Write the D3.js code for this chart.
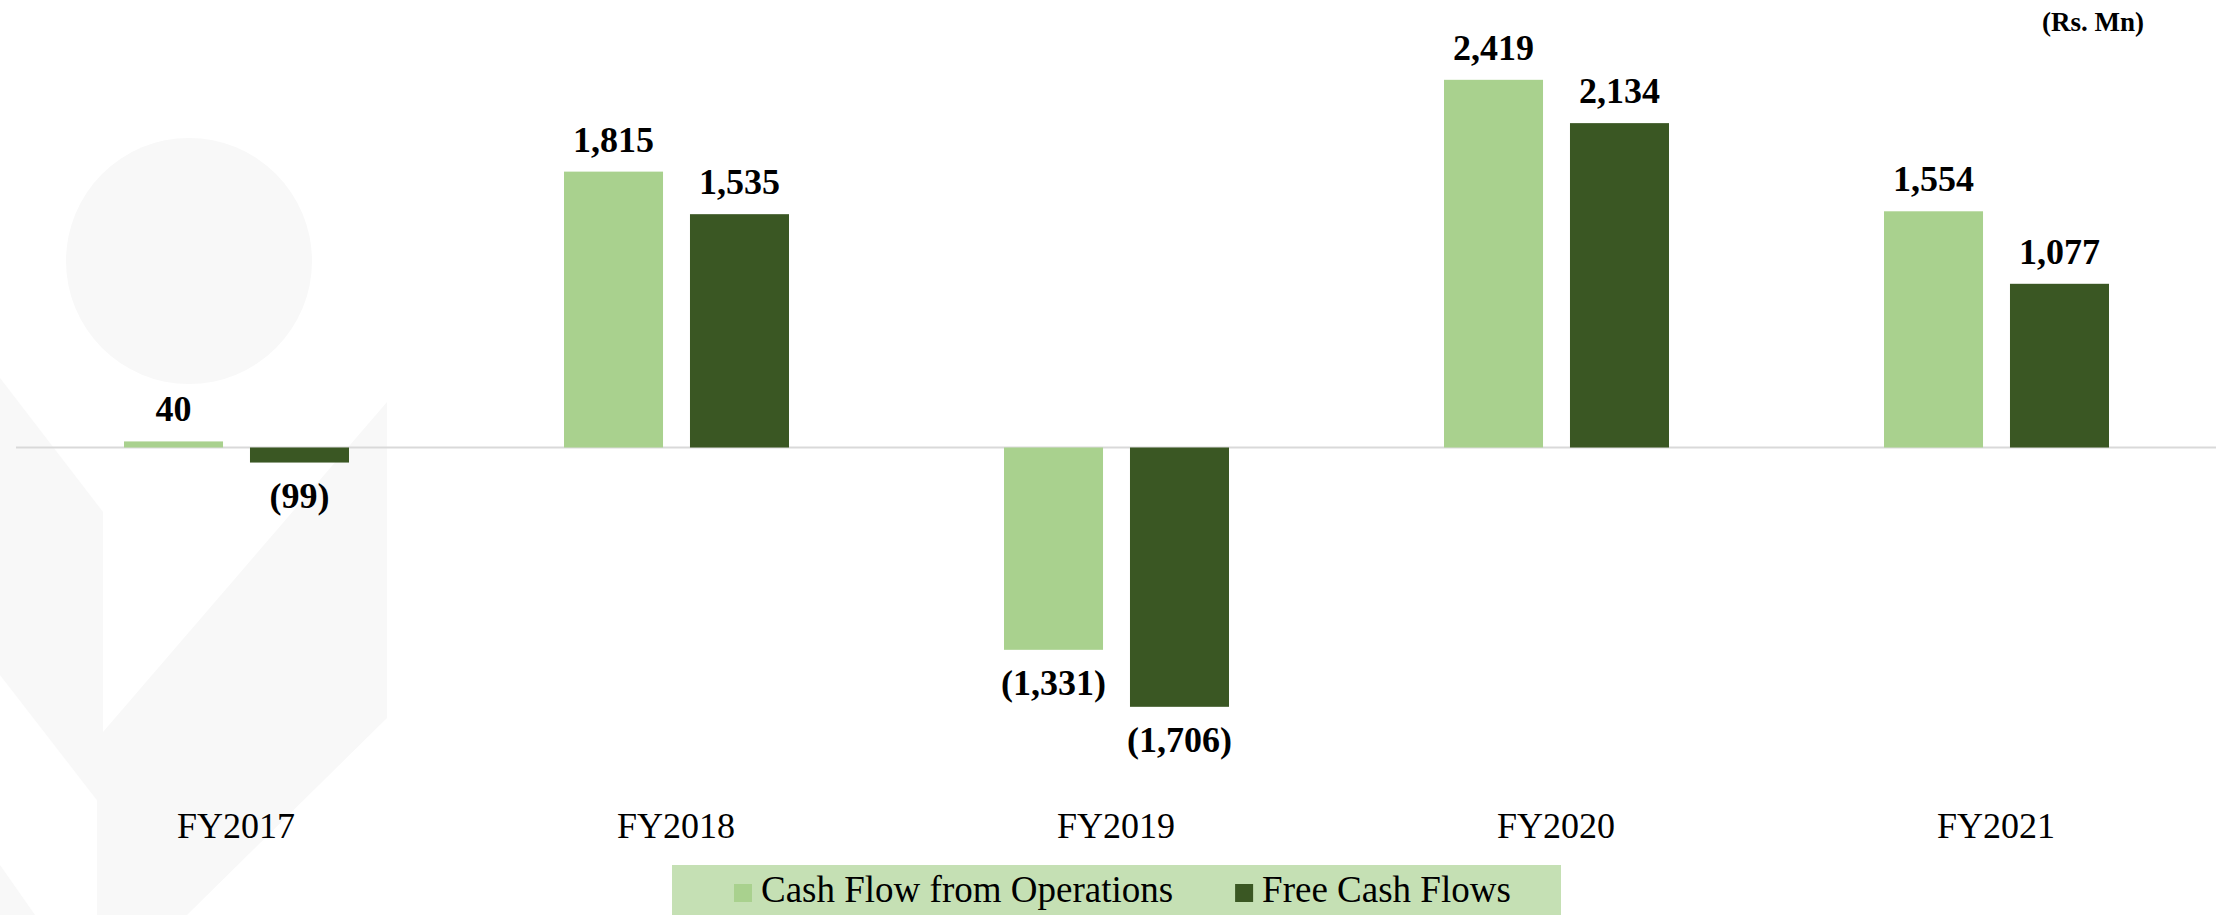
<!DOCTYPE html>
<html>
<head>
<meta charset="utf-8">
<script src="https://cdn.jsdelivr.net/npm/d3@7"></script>
<style>
  html, body { margin: 0; padding: 0; background: #ffffff; }
  svg { display: block; }
  text { font-family: "Liberation Serif", "Times New Roman", serif; }
</style>
</head>
<body>
<svg id="chart" width="2218" height="915"></svg>
<script>
const categories = ["FY2017", "FY2018", "FY2019", "FY2020", "FY2021"];
const seriesNames = ["Cash Flow from Operations", "Free Cash Flows"];
const cashFlowOps = [40, 1815, -1331, 2419, 1554];
const freeCashFlows = [-99, 1535, -1706, 2134, 1077];
const seriesColors = ["#a9d18e", "#3a5723"];
const unitLabel = "(Rs. Mn)";

const W = 2218, H = 915;
const svg = d3.select("#chart");

// faint watermark
const wm = svg.append("g").attr("fill", "#f8f8f8");
wm.append("circle").attr("cx", 189).attr("cy", 261).attr("r", 123);
wm.append("polygon").attr("points", "0,378 103,512 103,808 0,675");
wm.append("polygon").attr("points", "387,402 387,718 187,915 97,915 97,802 103,732");
wm.append("polygon").attr("points", "0,865 35,915 0,915");

const x0 = d3.scaleBand().domain(categories).range([16, 2216]).padding(0);
const x1 = d3.scaleBand().domain(seriesNames).range([108, 333]).paddingInner(0.214);
const y = d3.scaleLinear().domain([-2000, 2800]).range([751.5, 21.9]);

const fmt = v => v < 0 ? "(" + d3.format(",")(-v) + ")" : d3.format(",")(v);

const data = categories.map((c, i) => ({
  cat: c,
  vals: [
    { s: seriesNames[0], v: cashFlowOps[i], c: seriesColors[0] },
    { s: seriesNames[1], v: freeCashFlows[i], c: seriesColors[1] }
  ]
}));

// baseline
svg.append("line")
  .attr("x1", x0.range()[0]).attr("x2", x0.range()[1])
  .attr("y1", y(0)).attr("y2", y(0))
  .attr("stroke", "#d9d9d9").attr("stroke-width", 2);

const groups = svg.selectAll("g.grp").data(data).join("g")
  .attr("class", "grp")
  .attr("transform", d => `translate(${x0(d.cat)},0)`);

groups.selectAll("rect").data(d => d.vals).join("rect")
  .attr("x", d => x1(d.s))
  .attr("width", x1.bandwidth())
  .attr("y", d => y(Math.max(0, d.v)))
  .attr("height", d => Math.abs(y(d.v) - y(0)))
  .attr("fill", d => d.c);

groups.selectAll("text.val").data(d => d.vals).join("text")
  .attr("class", "val")
  .attr("x", d => x1(d.s) + x1.bandwidth() / 2)
  .attr("y", d => d.v >= 0 ? y(d.v) - 20 : y(d.v) + 45)
  .attr("text-anchor", "middle")
  .attr("font-size", 36)
  .attr("font-weight", "bold")
  .attr("fill", "#000")
  .text(d => fmt(d.v));

// category labels
svg.selectAll("text.cat").data(categories).join("text")
  .attr("class", "cat")
  .attr("x", d => x0(d) + x0.bandwidth() / 2)
  .attr("y", 838)
  .attr("text-anchor", "middle")
  .attr("font-size", 36)
  .attr("fill", "#000")
  .text(d => d);

// unit label
svg.append("text")
  .attr("x", 2144).attr("y", 31)
  .attr("text-anchor", "end")
  .attr("font-size", 27)
  .attr("font-weight", "bold")
  .attr("fill", "#000")
  .text(unitLabel);

// legend
const lg = svg.append("g");
lg.append("rect").attr("x", 672).attr("y", 865).attr("width", 889).attr("height", 50).attr("fill", "#c5e0b4");
let lx = 734;
seriesNames.forEach((s, i) => {
  lg.append("rect").attr("x", lx).attr("y", 884).attr("width", 18).attr("height", 18).attr("fill", seriesColors[i]);
  const t = lg.append("text").attr("x", lx + 27).attr("y", 902)
    .attr("font-size", 37).attr("fill", "#000").text(s);
  lx = lx + 27 + t.node().getComputedTextLength() + 62;
});
</script>
</body>
</html>
